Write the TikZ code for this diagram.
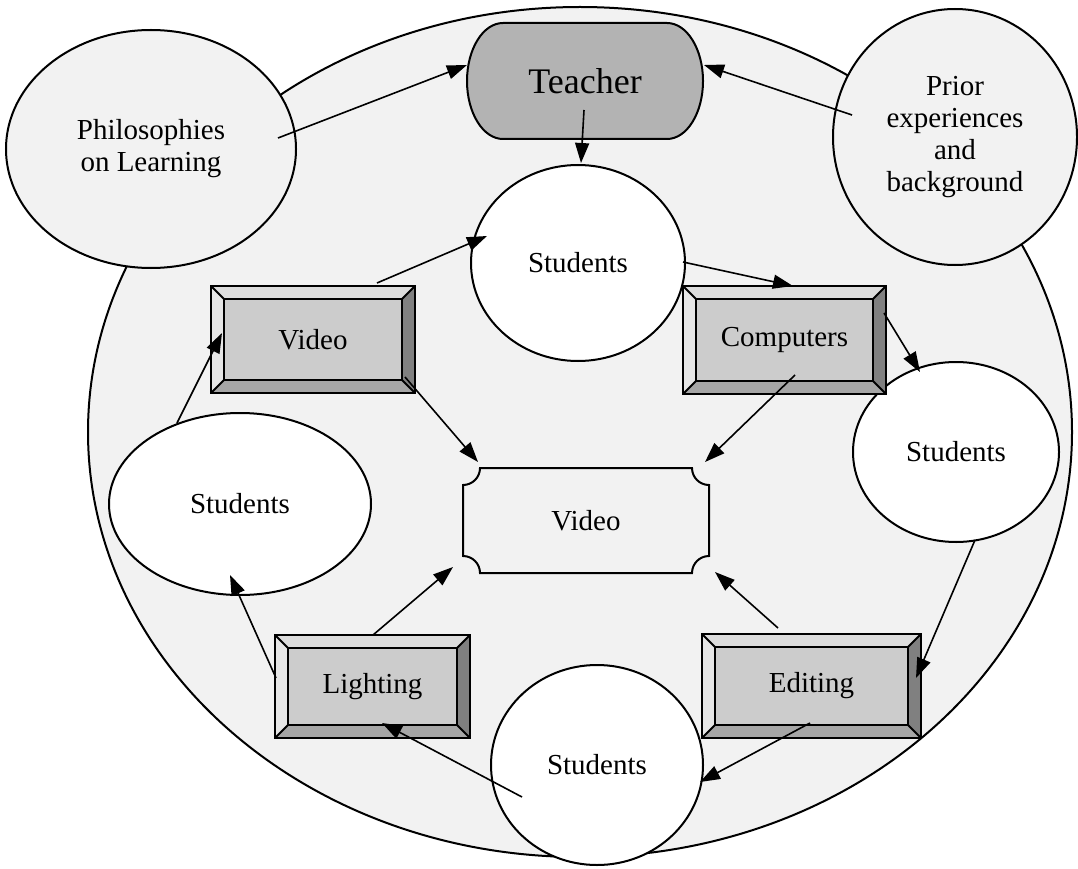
\documentclass[tikz,border=0pt]{standalone}
\usepackage{fontspec}
\setmainfont{Liberation Serif}
\usetikzlibrary{arrows.meta,shapes.geometric}

\definecolor{bgfill}{HTML}{F2F2F2}
\definecolor{teacherfill}{HTML}{B3B3B3}
\definecolor{boxface}{HTML}{CCCCCC}
\definecolor{bevtop}{HTML}{DCDCDC}
\definecolor{bevleft}{HTML}{E6E6E6}
\definecolor{bevright}{HTML}{808080}
\definecolor{bevbottom}{HTML}{A6A6A6}

\newcommand\diagfont{\fontsize{29}{32}\selectfont}
\newcommand\bigfont{\fontsize{36}{40}\selectfont}

% bevelled frame drawn around a named rectangular node
\newcommand\bevelframe[1]{%
  \fill[bevtop] (#1.north west) -- (#1.north east) -- ([shift={(-13,13)}]#1.north east) -- ([shift={(13,13)}]#1.north west) -- cycle;
  \fill[bevleft] (#1.north west) -- ([shift={(13,13)}]#1.north west) -- ([shift={(13,-13)}]#1.south west) -- (#1.south west) -- cycle;
  \fill[bevright] (#1.north east) -- ([shift={(-13,13)}]#1.north east) -- ([shift={(-13,-13)}]#1.south east) -- (#1.south east) -- cycle;
  \fill[bevbottom] (#1.south west) -- ([shift={(13,-13)}]#1.south west) -- ([shift={(-13,-13)}]#1.south east) -- (#1.south east) -- cycle;
  \draw (#1.north west) rectangle (#1.south east);
  \draw ([shift={(13,13)}]#1.north west) rectangle ([shift={(-13,-13)}]#1.south east);
  \draw (#1.north west) -- ([shift={(13,13)}]#1.north west);
  \draw (#1.north east) -- ([shift={(-13,13)}]#1.north east);
  \draw (#1.south west) -- ([shift={(13,-13)}]#1.south west);
  \draw (#1.south east) -- ([shift={(-13,-13)}]#1.south east);
}

\tikzset{
  bubble/.style={ellipse, draw, line width=2pt, inner sep=0pt, align=center, font=\diagfont},
  bevelnode/.style={rectangle, inner sep=0pt, fill=boxface, font=\diagfont},
  conn/.style={-{Triangle[length=20pt,width=14pt]}, line width=1.6pt},
}

\begin{document}
\begin{tikzpicture}[x=1pt,y=-1pt,line width=2pt]
\useasboundingbox (0,0) rectangle (1078,869);

% surrounding classroom ellipse
\draw[fill=bgfill] (580,432) ellipse [x radius=492, y radius=425];

% outside influences
\node[bubble, fill=bgfill, minimum width=290pt, minimum height=238pt] (phil) at (151,149) {Philosophies\\on Learning};
\node[bubble, fill=bgfill, minimum width=244pt, minimum height=256pt] (prior) at (955,137) {Prior\\experiences\\and\\background};

% teacher: flat top and bottom, half-elliptic sides
\fill[teacherfill] (503,23) -- (667,23) arc[start angle=-90, end angle=90, x radius=36, y radius=58]
  -- (503,139) arc[start angle=90, end angle=270, x radius=36, y radius=58] -- cycle;
\draw (503,23) -- (667,23) arc[start angle=-90, end angle=90, x radius=36, y radius=58]
  -- (503,139) arc[start angle=90, end angle=270, x radius=36, y radius=58] -- cycle;
\node[font=\bigfont, inner sep=0pt, minimum width=236pt, minimum height=116pt] (teacher) at (585,81) {Teacher};

% student groups
\node[bubble, fill=white, minimum width=214pt, minimum height=196pt] (stop) at (578,263) {Students};
\node[bubble, fill=white, minimum width=206pt, minimum height=180pt] (sright) at (956,452) {Students};
\node[bubble, fill=white, minimum width=262pt, minimum height=182pt] (sleft) at (240,504) {Students};
\node[bubble, fill=white, minimum width=212pt, minimum height=200pt] (sbot) at (597,765) {Students};

% production resources
\node[bevelnode, minimum width=202pt, minimum height=105pt] (vidbox) at (313,339.5) {Video};
\bevelframe{vidbox}
\node[bevelnode, minimum width=201pt, minimum height=106pt] (comp) at (784.5,340) {Computers};
\bevelframe{comp}
\node[bevelnode, minimum width=193pt, minimum height=101pt] (light) at (372.5,686.5) {Lighting};
\bevelframe{light}
\node[bevelnode, minimum width=217pt, minimum height=102pt] (edit) at (811.5,686) {Editing};
\bevelframe{edit}

% final product: plaque with concave corners
\draw (480,468) -- (692,468) arc[start angle=180, end angle=90, radius=17]
  -- (709,556) arc[start angle=270, end angle=180, radius=17]
  -- (480,573) arc[start angle=0, end angle=-90, radius=17]
  -- (463,485) arc[start angle=90, end angle=0, radius=17] -- cycle;
\node[font=\diagfont, inner sep=0pt, minimum width=246pt, minimum height=105pt] (plaque) at (586,520.5) {Video};

% connectors
\draw[conn] ([shift={(127,-11)}]phil.center) -- ([shift={(-118,-16)}]teacher.center);
\draw[conn] ([shift={(-103,-22)}]prior.center) -- ([shift={(119,-16)}]teacher.center);
\draw[conn] ([shift={(-1,29)}]teacher.center) -- ([shift={(3,-100)}]stop.center);
\draw[conn] ([shift={(105,-1)}]stop.center) -- ([shift={(8.5,-54)}]comp.center);
\draw[conn] ([shift={(64,-56.5)}]vidbox.center) -- ([shift={(-91,-27)}]stop.center);
\draw[conn] ([shift={(99.5,-27)}]comp.center) -- ([shift={(-36,-80)}]sright.center);
\draw[conn] ([shift={(92,37.5)}]vidbox.center) -- ([shift={(-108,-58.5)}]plaque.center);
\draw[conn] ([shift={(10.5,35)}]comp.center) -- ([shift={(119,-58.5)}]plaque.center);
\draw[conn] ([shift={(19,88)}]sright.center) -- ([shift={(104.5,-8)}]edit.center);
\draw[conn] ([shift={(-33.5,-58)}]edit.center) -- ([shift={(129,51.5)}]plaque.center);
\draw[conn] ([shift={(-1.5,37)}]edit.center) -- ([shift={(103,17)}]sbot.center);
\draw[conn] ([shift={(-75,32)}]sbot.center) -- ([shift={(9.5,36.5)}]light.center);
\draw[conn] ([shift={(0.5,-51.5)}]light.center) -- ([shift={(-133,46.5)}]plaque.center);
\draw[conn] ([shift={(-96.5,-8.5)}]light.center) -- ([shift={(-10,71)}]sleft.center);
\draw[conn] ([shift={(-63,-81)}]sleft.center) -- ([shift={(-91,-6.5)}]vidbox.center);
\end{tikzpicture}
\end{document}
